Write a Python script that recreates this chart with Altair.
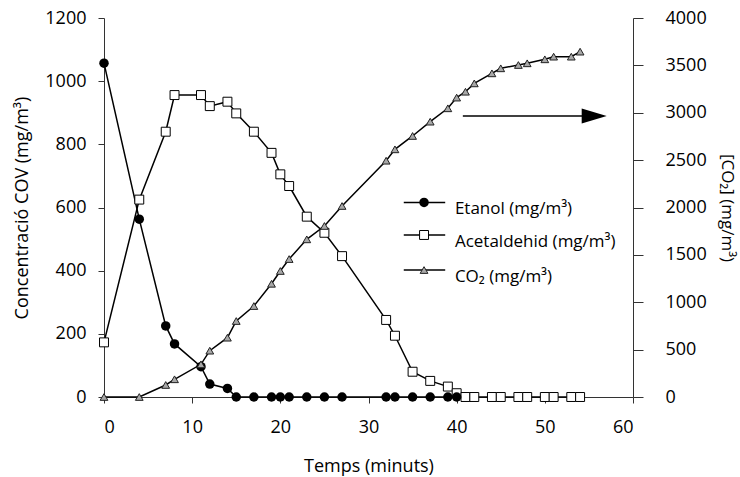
import altair as alt
import pandas as pd

# ---- data ----
t_voc = [0, 4, 7, 8, 11, 12, 14, 15, 17, 19, 20, 21, 23, 25, 27, 32, 33, 35, 37, 39, 40]
t_ext = [41, 42, 44, 45, 47, 48, 50, 51, 53, 54]
etanol = [1057, 563, 225, 168, 96, 41, 27, 0, 0, 0, 0, 0, 0, 0, 0, 0, 0, 0, 0, 0, 0]
acetaldehid = [173, 625, 840, 956, 956, 921, 935, 898, 840, 773, 705, 668, 571, 520, 446,
               244, 194, 80, 51, 33, 12, 0, 0, 0, 0, 0, 0, 0, 0, 0, 0]
co2 = [0, 0, 127, 187, 345, 489, 626, 802, 960, 1195, 1330, 1456, 1664, 1805, 2016,
       2494, 2614, 2755, 2906, 3047, 3160, 3222, 3310, 3416, 3469, 3504, 3522, 3564, 3592, 3592, 3645]

legend_labels = ["Etanol (mg/m³)", "Acetaldehid (mg/m³)", "CO₂ (mg/m³)"]
x_ticks = [0, 10, 20, 30, 40, 50, 60]
y_left_ticks = [0, 200, 400, 600, 800, 1000, 1200]
y_right_ticks = [0, 500, 1000, 1500, 2000, 2500, 3000, 3500, 4000]

# annotation placement (data units of the left axis)
legend_y = [616, 513, 402]
legend_x = [34.0, 36.3, 38.7, 39.8]   # line start, marker, line end, text
arrow_x = [40.7, 55.6]
arrow_y = 890

FONT = "Open Sans"

df_et = pd.DataFrame({"t": t_voc, "y": etanol})
df_ac = pd.DataFrame({"t": t_voc + t_ext, "y": acetaldehid})
df_co = pd.DataFrame({"t": t_voc + t_ext, "y": co2})

X = alt.X("t:Q", scale=alt.Scale(domain=[0, 60], nice=False),
          axis=alt.Axis(values=x_ticks, title="Temps (minuts)", grid=False, format="d",
                        tickSize=6, labelPadding=15, titlePadding=21))
YL = alt.Y("y:Q", scale=alt.Scale(domain=[0, 1200], nice=False),
           axis=alt.Axis(values=y_left_ticks, title="Concentració COV (mg/m³)", orient="left",
                         grid=False, format="d", tickSize=6, labelPadding=12, titlePadding=13))
YR = alt.Y("y:Q", scale=alt.Scale(domain=[0, 4000], nice=False),
           axis=alt.Axis(values=y_right_ticks, title="[CO₂] (mg/m³)", orient="right",
                         grid=False, format="d", tickSize=10, labelPadding=22, titlePadding=11,
                         titleFontSize=17))

XS = alt.Scale(domain=[0, 60], nice=False)
LINE = dict(color="black", strokeWidth=1.5)

et_line = alt.Chart(df_et).mark_line(**LINE).encode(x=X, y=YL)
et_pts = alt.Chart(df_et).mark_point(shape="circle", filled=True, color="black",
                                      size=90, opacity=1).encode(x=X, y=YL)
ac_line = alt.Chart(df_ac).mark_line(**LINE).encode(x=X, y=YL)
ac_pts = alt.Chart(df_ac).mark_point(shape="square", filled=True, fill="white", stroke="black",
                                      strokeWidth=1, size=80, opacity=1).encode(x=X, y=YL)

# legend (drawn inside the plot)
leg_df = pd.DataFrame({"t": [legend_x[0]] * 3, "t2": [legend_x[2]] * 3,
                       "tm": [legend_x[1]] * 3, "tt": [legend_x[3]] * 3,
                       "y": legend_y, "label": legend_labels})
leg_rules = alt.Chart(leg_df).mark_rule(color="black", strokeWidth=1.5).encode(
    x=X, x2="t2:Q", y=YL)
leg_c = alt.Chart(leg_df.iloc[[0]]).mark_point(shape="circle", filled=True, color="black",
                                               size=90, opacity=1).encode(
    x=alt.X("tm:Q", scale=XS), y=YL)
leg_s = alt.Chart(leg_df.iloc[[1]]).mark_point(shape="square", filled=True, fill="white",
                                               stroke="black", strokeWidth=1, size=80,
                                               opacity=1).encode(
    x=alt.X("tm:Q", scale=XS), y=YL)
leg_t = alt.Chart(leg_df.iloc[[2]]).mark_point(shape="triangle-up", filled=True, fill="#a8a8a8",
                                               stroke="#222", strokeWidth=1, size=60,
                                               opacity=1).encode(
    x=alt.X("tm:Q", scale=XS), y=YL)
leg_text = alt.Chart(leg_df).mark_text(align="left", baseline="alphabetic", dy=12,
                                       fontSize=17, font=FONT, color="black").encode(
    x=alt.X("tt:Q", scale=XS), y=YL, text="label:N")

# arrow pointing to the right axis
arr_df = pd.DataFrame({"t": [arrow_x[0]], "t2": [arrow_x[1] - 1], "ta": [arrow_x[1]], "y": [arrow_y]})
arr_line = alt.Chart(arr_df).mark_rule(color="black", strokeWidth=1.5).encode(x=X, x2="t2:Q", y=YL)
arr_head = alt.Chart(arr_df).mark_point(shape="M-1,-0.6L1,0L-1,0.6Z", filled=True, color="black",
                                        size=625, opacity=1).encode(
    x=alt.X("ta:Q", scale=XS), y=YL)

left = alt.layer(ac_line, et_line, ac_pts, et_pts, leg_rules, leg_c, leg_s, leg_t, leg_text,
                 arr_line, arr_head)

co_line = alt.Chart(df_co).mark_line(**LINE).encode(x=X, y=YR)
co_pts = alt.Chart(df_co).mark_point(shape="triangle-up", filled=True, fill="#a8a8a8",
                                      stroke="#222", strokeWidth=1, size=60,
                                      opacity=1).encode(x=X, y=YR)
right = alt.layer(co_line, co_pts)

chart = alt.layer(left, right).resolve_scale(y="independent").properties(
    width=529, height=379, autosize="none", background="white",
    padding={"left": 104, "top": 18, "right": 107, "bottom": 80},
).configure_view(stroke=None).configure_axis(
    labelFont=FONT, titleFont=FONT, labelFontSize=18, titleFontSize=18,
    titleFontWeight="normal", labelColor="black", titleColor="black",
    domainColor="#333", tickColor="#333", domainWidth=1, tickWidth=1,
)

chart.save("out.html", embed_options={"renderer": "svg", "actions": False})
